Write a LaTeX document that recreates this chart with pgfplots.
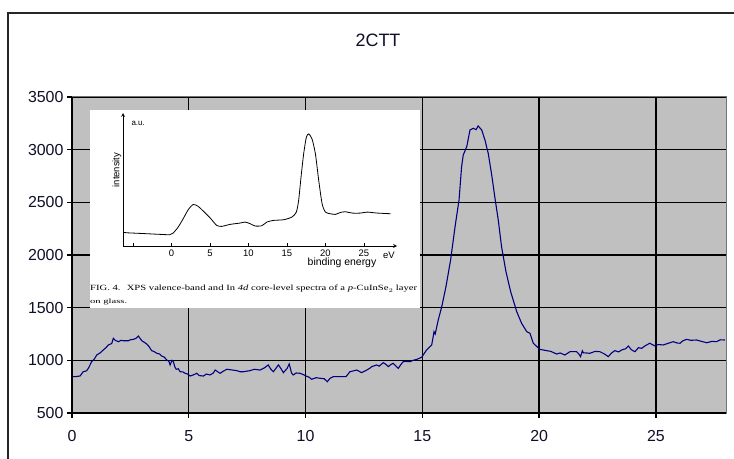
\documentclass[border=0pt]{standalone}
\usepackage{fontspec}
\setmainfont{Liberation Sans}
\newfontfamily\seriffont{Liberation Serif}
\usepackage{graphicx}
\usepackage{pgfplots}
\pgfplotsset{compat=1.18}
\definecolor{plotgray}{RGB}{192,192,192}
\definecolor{navy}{RGB}{0,0,128}
\definecolor{txt}{RGB}{15,15,40}

\pgfplotstableread{
x y
0.05 845
0.13 845
0.30 850
0.34 850
0.48 892
0.62 900
0.70 924
0.84 987
0.95 1010
1.06 1051
1.20 1070
1.34 1098
1.45 1120
1.56 1146
1.70 1160
1.77 1209
1.85 1190
1.99 1177
2.10 1190
2.20 1186
2.41 1186
2.50 1195
2.63 1199
2.75 1210
2.84 1231
2.99 1186
3.10 1170
3.20 1155
3.30 1130
3.41 1092
3.50 1085
3.63 1067
3.75 1060
3.84 1041
3.95 1030
4.06 1003
4.15 990
4.20 956
4.28 1000
4.34 987
4.40 940
4.46 915
4.55 920
4.63 892
4.75 890
4.84 877
4.95 870
5.06 851
5.20 862
5.34 877
5.45 855
5.63 851
5.75 870
5.91 861
6.05 880
6.13 908
6.25 890
6.34 877
6.50 900
6.63 915
6.80 910
7.06 902
7.19 892
7.34 892
7.62 902
7.80 915
8.05 908
8.25 930
8.40 956
8.50 920
8.62 892
8.75 930
8.84 956
8.95 920
9.05 883
9.20 920
9.30 965
9.40 880
9.47 861
9.60 880
9.76 877
9.90 865
10.02 851
10.15 840
10.26 820
10.45 835
10.62 830
10.80 825
10.93 797
11.05 830
11.19 845
11.73 845
11.90 892
12.05 900
12.19 908
12.30 895
12.40 883
12.62 908
12.75 925
12.83 940
13.04 956
13.15 945
13.33 978
13.45 960
13.54 940
13.65 960
13.75 972
13.85 950
13.97 924
14.08 960
14.18 987
14.30 990
14.47 987
14.60 1000
14.76 1009
14.97 1029
15.18 1098
15.40 1146
15.50 1272
15.55 1250
15.68 1383
15.83 1509
16.01 1699
16.21 1953
16.40 2269
16.57 2522
16.68 2838
16.75 2949
16.90 3028
17.04 3187
17.18 3203
17.30 3190
17.39 3225
17.54 3187
17.68 3092
17.82 2965
17.97 2759
18.11 2538
18.25 2332
18.39 2079
18.58 1841
18.78 1652
19.04 1462
19.25 1351
19.47 1272
19.61 1256
19.75 1162
20.03 1104
20.32 1092
20.50 1085
20.75 1060
20.90 1070
21.10 1051
21.32 1082
21.60 1082
21.70 1060
21.77 1035
21.85 1090
21.89 1072
22.17 1067
22.40 1085
22.60 1082
22.80 1060
22.96 1035
23.10 1070
23.24 1092
23.40 1080
23.53 1098
23.70 1110
23.82 1136
23.95 1100
24.10 1082
24.25 1120
24.39 1114
24.55 1140
24.74 1162
24.96 1136
25.10 1150
25.31 1146
25.50 1160
25.74 1177
25.90 1165
26.03 1162
26.15 1185
26.31 1199
26.50 1190
26.74 1193
26.95 1180
27.17 1167
27.40 1180
27.60 1177
27.75 1195
27.95 1193
}\maindata

\pgfplotstableread{
x y
-6.09 40
-3.26 37
-1.52 35
-0.22 34
0.22 39
0.87 57
1.52 82
2.17 109
2.83 125
3.48 119
4.13 105
5.00 85
5.87 62
6.52 59
7.61 65
8.91 69
9.57 72
10.22 67
10.87 60
11.74 61
12.39 72
13.26 77
14.57 79
15.65 87
16.22 102
16.52 137
16.83 207
17.17 277
17.52 327
17.83 337
18.26 322
18.70 277
19.13 197
19.57 127
20.00 102
20.65 97
21.30 95
21.96 101
22.61 103
23.48 99
24.57 99
25.43 102
26.74 99
28.48 97
}\insetdata

\begin{document}
\begin{tikzpicture}
\clip (0,0) rectangle (734bp,459bp);
\fill[white] (0,0) rectangle (734bp,459bp);
\draw[line width=1.5bp, black!85] (8bp,-5bp) rectangle (745bp,446bp);
\node[font=\fontsize{18}{21}\selectfont, text=txt] at (378bp,418.5bp) {2CTT};
\begin{axis}[
  at={(72bp,46bp)}, anchor=south west, scale only axis,
  width=654bp, height=316bp,
  xmin=0, xmax=28, ymin=500, ymax=3500,
  xtick={0,5,...,25}, ytick={500,1000,...,3500},
  grid=major, grid style={black, line width=1.4bp},
  axis background/.style={fill=plotgray},
  axis line style={draw=black!55, line width=1bp},
  tick align=outside, major tick length=5bp,
  tick style={black, line width=1.3bp},
  xtick pos=bottom, ytick pos=left,
  ticklabel style={font=\fontsize{16}{19}\selectfont, text=txt},
  /pgf/number format/assume math mode=true,
  /pgf/number format/1000 sep={},
  xticklabel style={yshift=-9bp},
]
\addplot[navy, line width=1.1bp] table[x=x,y=y] {\maindata};
\end{axis}
\draw[black, line width=1.5bp] (72bp,46bp) -- (72bp,362bp);
\draw[black, line width=1.5bp] (72bp,46bp) -- (726bp,46bp);
% inset figure
\fill[white] (90bp,151bp) rectangle (420bp,349bp);
\begin{axis}[
  at={(123bp,213bp)}, anchor=south west, scale only axis,
  width=274bp, height=133bp,
  xmin=-6.3, xmax=29.3, ymin=0, ymax=400,
  axis lines=left,
  axis line style={black, line width=0.7bp, -stealth},
  xtick={-5,0,5,...,25}, xticklabels={,0,5,10,15,20,25},
  ytick={42}, yticklabels={},
  tick align=inside, major tick length=3bp,
  tick style={black, line width=0.6bp},
  ticklabel style={font=\fontsize{9.5}{11}\selectfont, text=black},
  /pgf/number format/assume math mode=true,
  clip=false,
]
\addplot[black, line width=0.8bp, smooth, tension=0.4] table[x=x,y=y] {\insetdata};
\end{axis}
\node[font=\fontsize{9.5}{11}\selectfont] at (389bp,204bp) {eV};
\node[font=\fontsize{10.5}{12}\selectfont] at (342bp,196bp) {binding energy};
\node[font=\fontsize{8}{9}\selectfont, anchor=west] at (128bp,336bp) {a.u.};
\node[font=\fontsize{9.5}{11}\selectfont, rotate=90] at (117bp,289bp) {intensity};
\node[anchor=base west, inner sep=0pt] at (90bp,168bp) {\resizebox{327bp}{5.6bp}{\seriffont FIG. 4. \ XPS valence-band and In \textit{4d} core-level spectra of a \textit{p}-CuInSe$_2$ layer}};
\node[anchor=base west, inner sep=0pt] at (90bp,155bp) {\resizebox{37bp}{4.6bp}{\seriffont on glass.}};
\end{tikzpicture}
\end{document}
